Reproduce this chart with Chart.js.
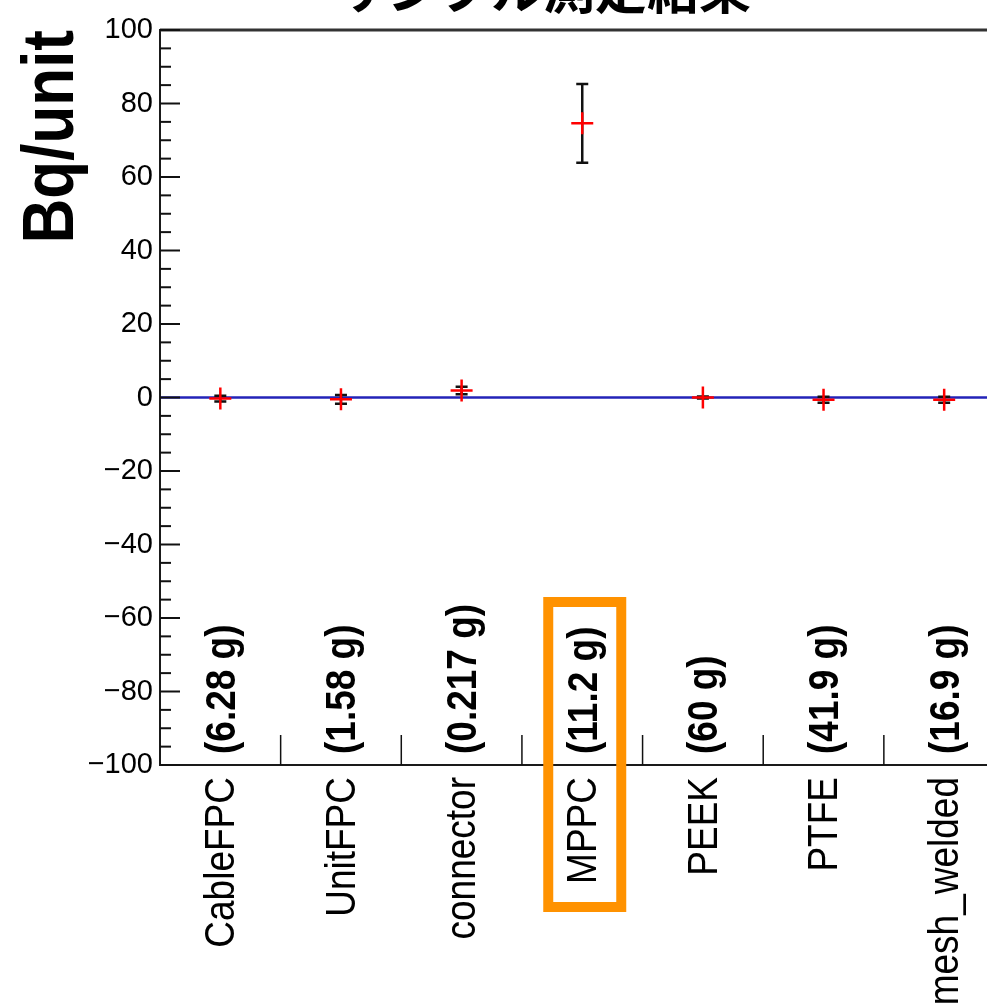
<!DOCTYPE html>
<html>
<head>
<meta charset="utf-8">
<script src="https://cdn.jsdelivr.net/npm/chart.js@4.4.1/dist/chart.umd.min.js"></script>
<style>
  html, body { margin: 0; padding: 0; background: #fff; overflow: hidden; }
  #box { position: relative; width: 1018px; height: 1004px; }
</style>
</head>
<body>
<div id="box"><canvas id="grafico"></canvas></div>
<script>
// dados
const categorias = ['CableFPC', 'UnitFPC', 'connector', 'MPPC', 'PEEK', 'PTFE', 'mesh_welded'];
const massas = ['(6.28 g)', '(1.58 g)', '(0.217 g)', '(11.2 g)', '(60 g)', '(41.9 g)', '(16.9 g)'];
const valores = [-0.3, -0.5, 1.9, 74.6, 0.0, -0.6, -0.6];
const erros = [0.8, 1.2, 1.0, 10.7, 0.3, 0.8, 0.8];
const yMin = -100, yMax = 100, yPasso = 20, yMenor = 5;
const destaque = 'MPPC';
const titulo = 'サンプル測定結果';
const tituloEixo = 'Bq/unit';

const fonte = '"Liberation Sans", Arial, Helvetica, sans-serif';

function menos(txt) {
  return String(txt).replace('-', '\u2212');
}

const desenhos = {
  id: 'desenhos',
  beforeDatasetsDraw(chart) {
    const ctx = chart.ctx;
    const a = chart.chartArea;
    const y = chart.scales.y;
    const meta = chart.getDatasetMeta(0);
    ctx.save();
    // linha azul em zero
    ctx.strokeStyle = '#2323b8';
    ctx.lineWidth = 2.5;
    ctx.beginPath();
    ctx.moveTo(a.left, y.getPixelForValue(0));
    ctx.lineTo(a.right, y.getPixelForValue(0));
    ctx.stroke();
    // barras de erro
    ctx.strokeStyle = '#111';
    ctx.lineWidth = 2.5;
    meta.data.forEach((p, i) => {
      const y1 = y.getPixelForValue(valores[i] + erros[i]);
      const y2 = y.getPixelForValue(valores[i] - erros[i]);
      ctx.beginPath();
      ctx.moveTo(p.x, y1); ctx.lineTo(p.x, y2);
      ctx.moveTo(p.x - 6, y1); ctx.lineTo(p.x + 6, y1);
      ctx.moveTo(p.x - 6, y2); ctx.lineTo(p.x + 6, y2);
      ctx.stroke();
    });
    ctx.restore();
  },
  afterDraw(chart) {
    const ctx = chart.ctx;
    const a = chart.chartArea;
    const x = chart.scales.x;
    const y = chart.scales.y;
    ctx.save();

    // moldura
    ctx.strokeStyle = '#1a1a1a';
    ctx.lineWidth = 2;
    ctx.strokeRect(a.left, a.top, a.right - a.left, a.bottom - a.top);
    ctx.lineWidth = 3;
    ctx.strokeStyle = '#333';
    ctx.beginPath(); ctx.moveTo(a.left, a.top); ctx.lineTo(a.right, a.top); ctx.stroke();

    // ticks do eixo y (para dentro)
    ctx.strokeStyle = '#111';
    ctx.lineWidth = 2;
    for (let v = yMin; v <= yMax; v += yMenor) {
      const py = y.getPixelForValue(v);
      const len = (v % yPasso === 0) ? 20 : 11;
      ctx.beginPath();
      ctx.moveTo(a.left, py); ctx.lineTo(a.left + len, py);
      ctx.stroke();
    }

    // ticks do eixo x nas bordas das categorias
    ctx.lineWidth = 1.5;
    for (let i = 0; i < categorias.length - 1; i++) {
      const px = x.getPixelForValue(i + 0.5);
      ctx.beginPath();
      ctx.moveTo(px, a.bottom); ctx.lineTo(px, a.bottom - 30);
      ctx.stroke();
    }

    // nomes das categorias e massas, rodados
    ctx.fillStyle = '#000';
    categorias.forEach((c, i) => {
      const px = x.getPixelForValue(i) + 2;
      ctx.save();
      ctx.translate(px, a.bottom + 12);
      ctx.scale(1.15, 1);
      ctx.rotate(-Math.PI / 2);
      ctx.font = '37px ' + fonte;
      ctx.textAlign = 'right';
      ctx.textBaseline = 'middle';
      ctx.fillText(c, 0, 0);
      ctx.restore();

      ctx.save();
      ctx.translate(px + 1, a.bottom - 11);
      ctx.scale(1.13, 1);
      ctx.rotate(-Math.PI / 2);
      ctx.font = 'bold 37px ' + fonte;
      ctx.textAlign = 'left';
      ctx.textBaseline = 'middle';
      ctx.fillText(massas[i], 0, 0);
      ctx.restore();
    });

    // caixa laranja
    const k = categorias.indexOf(destaque);
    const cx = x.getPixelForValue(k);
    ctx.strokeStyle = '#ff9200';
    ctx.lineWidth = 10;
    ctx.strokeRect(cx - 34, a.bottom - 163, 73, 305);

    // titulo do eixo y
    ctx.save();
    ctx.translate(73, a.top);
    ctx.scale(1.15, 1);
    ctx.rotate(-Math.PI / 2);
    ctx.font = 'bold 62px ' + fonte;
    ctx.textAlign = 'right';
    ctx.textBaseline = 'alphabetic';
    ctx.fillText(tituloEixo, 0, 0);
    ctx.restore();

    // titulo (cortado no topo)
    ctx.font = 'bold 52px "Noto Sans CJK JP", sans-serif';
    ctx.textAlign = 'center';
    ctx.textBaseline = 'bottom';
    ctx.fillText(titulo, 543, 15);

    ctx.restore();
  }
};

const ctx = document.getElementById('grafico').getContext('2d');
const grafico = new Chart(ctx, {
  type: 'line',
  data: {
    labels: categorias,
    datasets: [{
      data: valores,
      showLine: false,
      pointStyle: 'cross',
      pointRadius: 11,
      pointHoverRadius: 11,
      borderColor: '#ff0000',
      backgroundColor: '#ff0000',
      pointBorderWidth: 2.5
    }]
  },
  options: {
    responsive: true,
    maintainAspectRatio: false,
    animation: false,
    layout: { padding: { top: 30, right: 6, left: 0, bottom: 0 } },
    plugins: {
      legend: { display: false },
      tooltip: { enabled: false },
      title: { display: false }
    },
    scales: {
      x: {
        type: 'category',
        offset: true,
        grid: { display: false, drawTicks: false },
        border: { display: false },
        ticks: { display: false },
        afterFit: (s) => { s.height = 239; }
      },
      y: {
        min: yMin,
        max: yMax,
        grid: { display: false, drawTicks: false },
        border: { display: false },
        ticks: {
          stepSize: yPasso,
          padding: 7,
          color: '#000',
          font: { family: fonte, size: 29 },
          callback: (v) => menos(v)
        },
        afterFit: (s) => { s.width = 160; }
      }
    }
  },
  plugins: [desenhos]
});
</script>
</body>
</html>
